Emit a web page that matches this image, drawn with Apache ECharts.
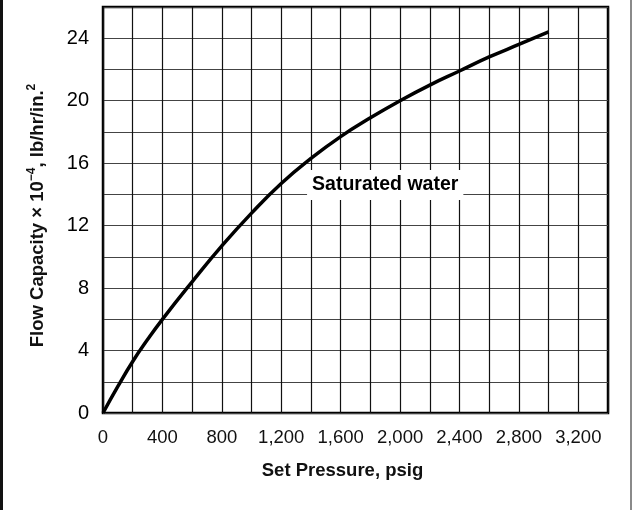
<!DOCTYPE html>
<html>
<head>
<meta charset="utf-8">
<script src="https://cdn.jsdelivr.net/npm/echarts@6/dist/echarts.min.js"></script>
<style>
html,body{margin:0;padding:0;background:#fff;}
#chart{width:634px;height:510px;}
</style>
</head>
<body>
<div id="chart"></div>
<script>
// Set pressure (psig)
const pressure = [0, 100, 200, 300, 400, 600, 800, 1000, 1200, 1400, 1600, 1800, 2000, 2200, 2400, 2600, 2800, 3000];
// Flow capacity x 10^-4 (lb/hr/in.^2)
const capacity = [0, 1.7, 3.3, 4.7, 6.0, 8.4, 10.7, 12.8, 14.7, 16.3, 17.7, 18.9, 20.0, 21.0, 21.9, 22.8, 23.6, 24.4];
const seriesName = 'Saturated water';
const labelAt = [1900, 14.6];
const xTitle = 'Set Pressure, psig';
const yTitle = 'Flow Capacity \u00d7 10{sup|\u22124}, lb/hr/in.{sup|2}';
const xMax = 3400, xStep = 200, xLabelStep = 400, xLabelMax = 3200;
const yMax = 26, yStep = 2, yLabelStep = 4, yLabelMax = 24;

const chart = echarts.init(document.getElementById('chart'), null, {renderer: 'canvas'});
const font = '"Liberation Sans", Arial, Helvetica, sans-serif';
chart.setOption({
  animation: false,
  backgroundColor: '#fff',
  grid: {left: 103, right: 26, top: 7, bottom: 97, show: true, borderColor: '#000', borderWidth: 2.5, backgroundColor: 'transparent'},
  xAxis: {
    type: 'value', min: 0, max: xMax, interval: xStep,
    axisLine: {show: false}, axisTick: {show: false},
    splitLine: {show: true, lineStyle: {color: '#111', width: 1.2}},
    axisLabel: {
      margin: 15, color: '#111', fontFamily: font, fontSize: 18.5,
      formatter: v => (v % xLabelStep === 0 && v <= xLabelMax) ? v.toLocaleString('en-US') : ''
    },
    name: xTitle, nameLocation: 'middle', nameGap: 48,
    nameTextStyle: {color: '#111', fontFamily: font, fontSize: 18.5, fontWeight: 'bold', padding: [0, 26, 0, 0]}
  },
  yAxis: {
    type: 'value', min: 0, max: yMax, interval: yStep,
    axisLine: {show: false}, axisTick: {show: false},
    splitLine: {show: true, lineStyle: {color: '#444', width: 1}},
    axisLabel: {
      margin: 14, color: '#000', fontFamily: font, fontSize: 20,
      formatter: v => (v % yLabelStep === 0 && v <= yLabelMax) ? String(v) : ''
    },
    name: yTitle, nameLocation: 'middle', nameGap: 53, nameRotate: 90,
    nameTextStyle: {
      color: '#111', fontFamily: font, fontSize: 18.5, fontWeight: 'bold', lineHeight: 24, padding: [0, 11, 0, 0],
      rich: {sup: {color: '#111', fontFamily: font, fontSize: 12, fontWeight: 'bold', lineHeight: 12, verticalAlign: 'top'}}
    }
  },
  series: [{
    name: seriesName, type: 'line', smooth: true, showSymbol: false,
    data: pressure.map((p, i) => [p, capacity[i]]),
    lineStyle: {color: '#000', width: 3.5},
    markPoint: {
      symbol: 'rect', symbolSize: 0,
      label: {
        show: true, formatter: seriesName, color: '#000', fontFamily: font, fontSize: 19.5, fontWeight: 'bold',
        backgroundColor: '#fff', padding: [5, 5, 5, 5]
      },
      data: [{coord: labelAt}]
    }
  }],
  graphic: [
    {type: 'rect', left: 0, top: 0, shape: {width: 3, height: 510}, style: {fill: '#111'}},
    {type: 'rect', left: 630, top: 0, shape: {width: 2, height: 510}, style: {fill: '#8a8a8a'}}
  ]
});
</script>
</body>
</html>
